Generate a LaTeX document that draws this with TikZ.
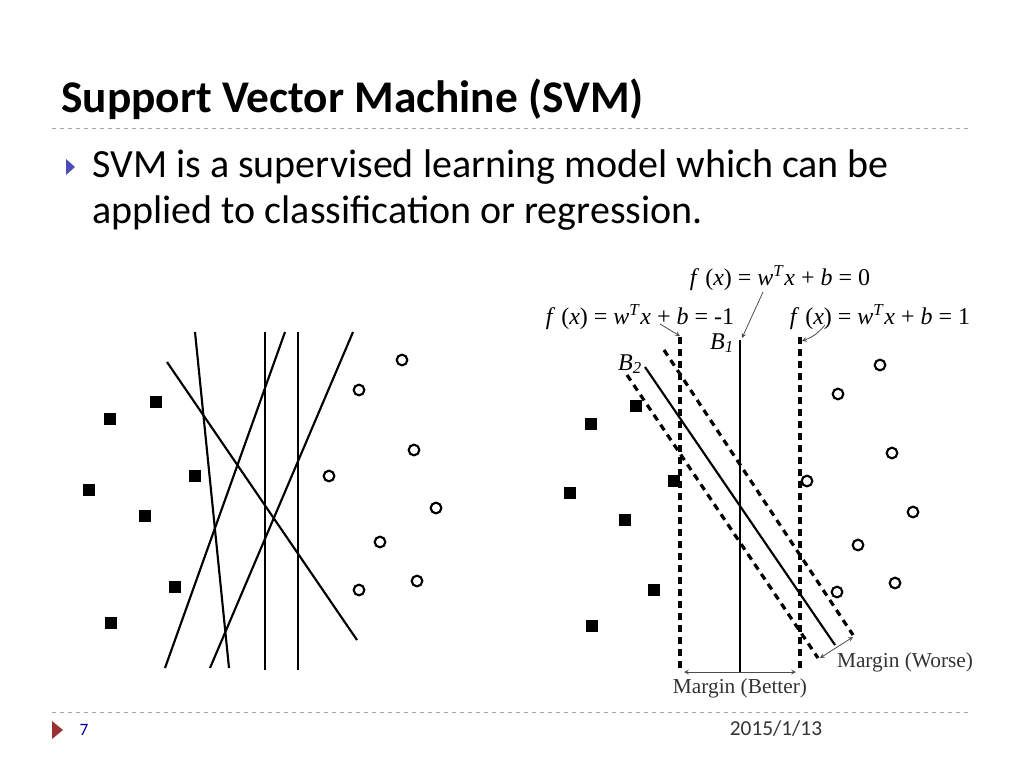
\documentclass[tikz,border=0pt]{standalone}
\usepackage{fontspec}
\setmainfont{Carlito}
\newfontfamily\serfont{Liberation Serif}
\begin{document}
\begin{tikzpicture}[x=0.75pt,y=-0.75pt,
  sq/.style={fill=black,minimum size=9pt,inner sep=0pt,draw=none},
  ci/.style={circle,draw,line width=1.6pt,minimum size=8pt,inner sep=0pt},
  ln/.style={line width=1.6pt},
  dl/.style={line width=2.4pt,dash pattern=on 5pt off 4pt},
  sep/.style={gray!70,dashed,line width=0.6pt},
  ptr/.style={gray!60!black,line width=0.6pt,-stealth},
  eq/.style={font=\serfont\fontsize{18}{20}\selectfont,inner sep=0pt},
  ml/.style={font=\serfont\fontsize{16}{18}\selectfont,inner sep=0pt,text=black!80}]
\useasboundingbox (0,0) rectangle (1024,768);
\node[anchor=west,font=\bfseries\fontsize{34}{38}\selectfont,inner sep=0pt] (title) at (61,99) {Support Vector Machine (SVM)};
\draw[sep] (52,128) coordinate (s1) -- (972,128) coordinate (s2);
\fill[blue!60!black!70] (66,159) -- (75,167) -- (66,175) -- cycle;
\node[anchor=north west,align=left,font=\fontsize{30}{35}\selectfont,inner sep=0pt] (body) at (92,149) {SVM is a supervised learning model which can be\\applied to classification or regression.};
% left
\foreach \a/\b/\c/\d in {195/332/229/668,167/362/357/640,265/332/265/670,298/332/298/670,285/332/165/668,353/332/210/668}
  \draw[ln] (\a,\b) -- (\c,\d);
\foreach \p in {(110,419),(156,402),(89,490),(195,476),(145,516),(175,587),(111,623)} \node[sq] at \p {};
\foreach \p in {(402,360),(359,390),(414,450),(329,476),(436,508),(380,542),(359,590),(417,581)} \node[ci] at \p {};
% right
\foreach \p in {(591,424),(636,406),(570,493),(674,481),(625,520),(654,590),(592,626)} \node[sq] at \p {};
\foreach \p in {(880,365),(838,394),(892,453),(807,481),(913,512),(858,545),(837,592),(895,583)} \node[ci] at \p {};
\draw[ln] (740,340) -- (740,672);
\draw[dl] (680,337) -- (680,672);
\draw[dl] (800,337) -- (800,672);
\draw[ln] (645,367) -- (835,645);
\draw[dl] (627,375) -- (818,658);
\draw[dl] (664,350) -- (853,635);
\node[eq] (e0) at (780,278) {\textit{f} (\textit{x}) = \textit{w}\textsuperscript{\textit{T}}\textit{x} + \textit{b} = 0};
\node[eq] (em) at (640,317) {\textit{f} (\textit{x}) = \textit{w}\textsuperscript{\textit{T}}\textit{x} + \textit{b} = -1};
\node[eq] (ep) at (880,317) {\textit{f} (\textit{x}) = \textit{w}\textsuperscript{\textit{T}}\textit{x} + \textit{b} = 1};
\node[eq] (b1) at (722,343) {\textit{B}\textsubscript{\textit{1}}};
\node[eq] (b2) at (630,364) {\textit{B}\textsubscript{\textit{2}}};
\draw[ptr] (763,292) -- (742,338);
\draw[ptr] (660,324) -- (680,336);
\draw[ptr] (825,325) to[bend left=15] (802,341);
\draw[gray!60!black,line width=0.6pt,stealth-stealth] (684,672) -- (796,672);
\draw[gray!60!black,line width=0.6pt,stealth-stealth] (820,658) -- (853,637);
\node[ml] (mb) at (740,688) {Margin (Better)};
\node[ml] (mw) at (905,662) {Margin (Worse)};
% footer
\draw[sep] (52,712) coordinate (s3) -- (972,712) coordinate (s4);
\fill[red!50!black!80] (52,721) -- (63,730) -- (52,739) -- cycle;
\node[text=blue!60!black,font=\fontsize{13}{15}\selectfont] (pg) at (84,730) {7};
\node[font=\fontsize{16}{18}\selectfont,text=black!80] (dt) at (776,729) {2015/1/13};
\end{tikzpicture}
\end{document}
